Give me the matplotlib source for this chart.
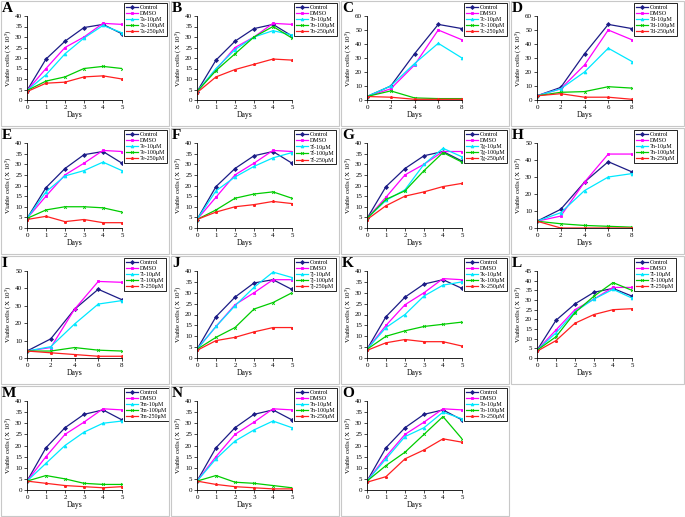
import matplotlib.pyplot as plt
from matplotlib.patches import Rectangle

plt.rcParams['font.family'] = ['Liberation Serif', 'DejaVu Serif']
plt.rcParams['mathtext.fontset'] = 'stix'

# dias de medicion
days5 = [0, 1, 2, 3, 4, 5]
days8 = [0, 2, 4, 6, 8]

# series por panel: Control, DMSO, 10uM, 100uM, 250uM
A = [[4.5, 19.5, 28, 34.5, 36, 31.5], [4.5, 15, 25, 30, 36.5, 36], [4.5, 12, 22, 29.5, 35.5, 32],
     [4.5, 9, 11, 15, 16, 15], [4, 8, 8.5, 11, 11.5, 10]]
B = [[4, 19, 28, 34, 36, 30.5], [4, 14.5, 25, 30, 36.5, 36], [4, 15, 24, 30, 33, 31],
     [4, 14, 22, 30, 35, 29.5], [3.5, 11, 14.5, 17, 19.5, 19]]
C = [[2.5, 10, 33, 54, 51], [2.5, 8, 25, 50, 43], [2.5, 10, 26, 40.5, 30],
     [2.5, 6.5, 1.5, 1, 1], [2.5, 2, 0.5, 0.5, 0.5]]
D = [[3, 9, 33, 54, 51], [3, 8, 25, 50, 43], [3, 8, 20, 37, 27.5],
     [3, 5.5, 6, 9.5, 8.5], [3, 4.5, 2, 2, 0.5]]
E = [[4.5, 19, 28, 34.5, 36, 30.5], [4.5, 15, 25, 30.5, 36.5, 36], [4.5, 17, 24.5, 27, 31, 27],
     [4.5, 8.5, 10, 10, 9.5, 7.5], [4, 5.5, 3, 4, 2.5, 2.5]]
F = [[4, 19.5, 28, 34, 36, 30.5], [4, 14.5, 25, 30.5, 36.5, 36], [4, 17.5, 24, 29, 33, 35.5],
     [4, 8.5, 14, 16, 17, 14], [4, 7.5, 10, 11, 12.5, 11.5]]
G = [[4.5, 19.5, 28, 34, 36, 31.5], [4.5, 14.5, 25, 30, 36, 36], [4.5, 13, 18, 30, 37.5, 33.5],
     [4.5, 13.5, 17.5, 27, 35.5, 31], [4, 10.5, 15, 17, 19.5, 21]]
Hh = [[4, 11, 27, 39, 33], [4, 7, 27, 43.5, 43.5], [4, 9, 22, 30, 32],
      [4, 2.5, 1.5, 1, 0.5], [4, 0, 0, 0, 0]]
I = [[4, 11, 28, 39.5, 33.5], [4, 6, 28, 44, 43.5], [4, 6.5, 19.5, 31, 33],
     [4, 4, 6, 4.5, 4], [4, 3, 2, 1, 1]]
J = [[4, 19, 28, 34.5, 36, 31.5], [4, 14.5, 24.5, 30, 36, 36], [4, 14.5, 24, 32.5, 39.5, 37],
     [4, 9.5, 14, 22.5, 25.5, 30], [3.5, 8, 9.5, 12, 14, 14]]
K = [[4, 19, 28, 34, 36, 32], [4, 15, 24.5, 30, 36.5, 36], [4, 14, 20, 28.5, 33.5, 35],
     [4, 10, 12.5, 14.5, 15.5, 16.5], [3.5, 7, 8.5, 7.5, 7.5, 5.5]]
L = [[4, 19.5, 28, 34, 36, 32], [4, 14.5, 25, 30.5, 36.5, 36.5], [4, 13, 24, 30.5, 35.5, 31],
     [4, 11, 23.5, 32, 39, 35], [3.5, 9, 18, 22.5, 25, 25.5]]
M = [[4, 19, 28, 34, 36, 31.5], [4, 15, 25, 30.5, 36.5, 36], [4, 12, 20, 26, 30, 31],
     [4, 6.5, 5, 3, 2.5, 2.5], [4, 3, 2, 1.5, 1, 1.5]]
N = [[4, 19, 28, 34, 36, 31.5], [4, 15, 25, 30.5, 36.5, 36], [4, 14, 22, 27, 31, 28],
     [4, 6.5, 3.5, 3, 2, 1], [4, 2.5, 1.5, 1, 0.5, 0.5]]
O = [[4, 19, 28, 34, 36, 31.5], [4, 15, 25, 30.5, 36.5, 36], [4, 14, 24, 28, 35, 32],
     [4, 11, 17, 25, 33, 23], [3.5, 6, 14, 18, 23, 21.5]]

letters = ['A', 'B', 'C', 'D', 'E', 'F', 'G', 'H', 'I', 'J', 'K', 'L', 'M', 'N', 'O']
compounds = ['7a', '7b', '7c', '7d', '7e', '7f', '7g', '7h', '7i', '7j', '7k', '7l', '7m', '7n', '7o']
datos = [A, B, C, D, E, F, G, Hh, I, J, K, L, M, N, O]
ymax = [40, 40, 60, 60, 40, 40, 40, 50, 50, 40, 40, 45, 40, 40, 40]
ystep = [5, 5, 10, 10, 5, 5, 5, 10, 10, 5, 5, 5, 5, 5, 5]

colores = ['#1c1c86', '#ff00ff', '#00e8ff', '#00cc00', '#ff2020']
marcadores = ['D', 's', '^', 'x', '*']

W, H = 685, 517
fig = plt.figure(figsize=(W / 100, H / 100), dpi=100)

col_x = [0, 170, 340, 510]
row_y = [0, 127, 255, 385]
row_h = [127, 128, 130, 132]

for k in range(15):
    r, c = divmod(k, 4)
    px, py, ph = col_x[c], row_y[r], row_h[r]
    pw = 170 if c < 3 else 175

    # marco del panel
    fig.patches.append(Rectangle((px / W + 0.001, 1 - (py + ph) / H + 0.001), (pw - 2) / W, (ph - 2) / H,
                                 transform=fig.transFigure, fill=False, edgecolor='#c8c8c8', lw=0.8))

    ax_l, ax_r, ax_t, ax_b = px + 27, px + 122, py + 16, py + ph - 27
    ax = fig.add_axes([ax_l / W, 1 - ax_b / H, (ax_r - ax_l) / W, (ax_b - ax_t) / H])

    dias = days8 if len(datos[k][0]) == 5 else days5
    etiquetas = ['Control', 'DMSO', compounds[k] + '-10μM', compounds[k] + '-100μM', compounds[k] + '-250μM']
    for s in range(5):
        ax.plot(dias, datos[k][s], color=colores[s], marker=marcadores[s], markersize=2,
                linewidth=0.9, markeredgewidth=0.6, label=etiquetas[s])

    ax.set_xlim(0, dias[-1])
    ax.set_ylim(0, ymax[k])
    ax.set_xticks(dias)
    ax.set_yticks(range(0, ymax[k] + 1, ystep[k]))
    ax.tick_params(labelsize=5, length=2, width=0.5, pad=1.5)
    for lado in ['top', 'right']:
        ax.spines[lado].set_visible(False)
    for lado in ['left', 'bottom']:
        ax.spines[lado].set_linewidth(0.6)
    ax.set_xlabel('Days', fontsize=5.5, labelpad=1)
    ax.set_ylabel(r'Viable cells (X 10$^{5}$)', fontsize=5, labelpad=1)

    ax.legend(loc='upper left', bbox_to_anchor=((px + 124) / W, 1 - (py + 3) / H),
              bbox_transform=fig.transFigure, fontsize=4.3, frameon=True, fancybox=False,
              edgecolor='black', framealpha=1, handlelength=2.0, handletextpad=0.3,
              borderpad=0.3, labelspacing=0.15, borderaxespad=0).get_frame().set_linewidth(0.6)

    fig.text((px + 2) / W, 1 - (py + 2) / H, letters[k], fontsize=11, fontweight='bold',
             va='top', ha='left')

fig.savefig('out.png', dpi=100)
